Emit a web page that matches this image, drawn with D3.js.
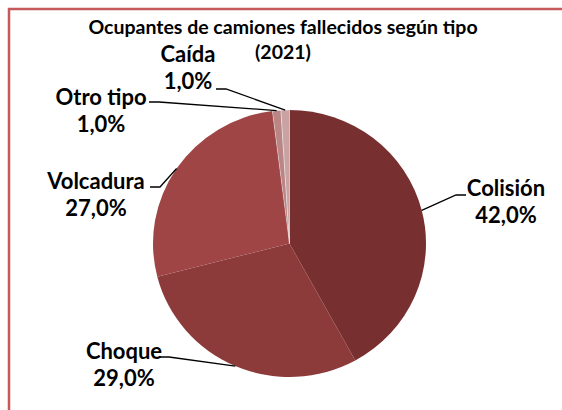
<!DOCTYPE html>
<html>
<head>
<meta charset="utf-8">
<script src="https://cdn.jsdelivr.net/npm/d3@7"></script>
<style>
  html, body { margin: 0; padding: 0; background: #fff; overflow: hidden; }
  text { font-family: Lato, "Open Sans", sans-serif; font-weight: bold; fill: #000; }
</style>
</head>
<body>
<svg id="chart"></svg>
<script>
// data
const categories = ['Colisión', 'Choque', 'Volcadura', 'Otro tipo', 'Caída'];
const values = [42.0, 29.0, 27.0, 1.0, 1.0];
const colors = ['#772F2F', '#8C3A3A', '#A04545', '#B98585', '#C9A3A3'];

// label layout: text center x, first-line baseline y, leader attach point
const labelLayout = [
  { x: 506, y: 196, ax: 466, ay: 195, side: 'left' },
  { x: 124, y: 359, ax: 159, ay: 357, side: 'right' },
  { x: 96,  y: 189, ax: 150, ay: 187, side: 'right' },
  { x: 101, y: 105, ax: 149, ay: 102, side: 'right' },
  { x: 188, y: 62,  ax: 216, ay: 89,  side: 'right' }
];

const width = 562, height = 410;
const cx = 289.5, cy = 243.5, rx = 136.5, ry = 133.5;

const svg = d3.select('#chart')
  .attr('width', width)
  .attr('height', height);

svg.append('rect')
  .attr('width', width).attr('height', height)
  .attr('fill', '#fff');

// outer frame
svg.append('rect')
  .attr('x', 9).attr('y', 9)
  .attr('width', width + 20).attr('height', height + 20)
  .attr('fill', 'none')
  .attr('stroke', '#C65A5A')
  .attr('stroke-width', 2.5);

// title
svg.append('text')
  .attr('x', 283).attr('y', 34)
  .attr('text-anchor', 'middle')
  .style('font-size', '19.5px')
  .text('Ocupantes de camiones fallecidos según tipo');
svg.append('text')
  .attr('x', 283).attr('y', 59)
  .attr('text-anchor', 'middle')
  .style('font-size', '19.5px')
  .text('(2021)');

const pie = d3.pie().sort(null).value(d => d.value);
const arcs = pie(categories.map((c, i) => ({ name: c, value: values[i] })));
const arc = d3.arc().innerRadius(0).outerRadius(rx);

const g = svg.append('g')
  .attr('transform', `translate(${cx},${cy}) scale(1,${ry / rx})`);

g.selectAll('path')
  .data(arcs)
  .enter()
  .append('path')
  .attr('d', arc)
  .attr('fill', (d, i) => colors[i])
  .attr('stroke', (d, i) => i >= 3 ? '#fff' : 'none')
  .attr('stroke-width', 0.6)
  .attr('stroke-opacity', 0.6);

// point on the pie edge at the middle of a slice
const edgePoint = (d) => {
  const a = (d.startAngle + d.endAngle) / 2;
  return [cx + rx * Math.sin(a), cy - ry * Math.cos(a)];
};

// leader lines
svg.selectAll('.leader')
  .data(arcs)
  .enter()
  .append('polyline')
  .attr('class', 'leader')
  .attr('fill', 'none')
  .attr('stroke', '#000')
  .attr('stroke-width', 1.3)
  .attr('points', (d, i) => {
    const L = labelLayout[i];
    const p = edgePoint(d);
    const bx = L.side === 'left' ? L.ax - 10 : L.ax + 10;
    return [[L.ax, L.ay], [bx, L.ay], p].map(q => q.join(',')).join(' ');
  });

// labels
const fmt = v => v.toFixed(1).replace('.', ',') + '%';
const labels = svg.selectAll('.label')
  .data(arcs)
  .enter()
  .append('text')
  .attr('class', 'label')
  .attr('text-anchor', 'middle')
  .style('font-size', '22px');

labels.append('tspan')
  .attr('x', (d, i) => labelLayout[i].x)
  .attr('y', (d, i) => labelLayout[i].y)
  .text(d => d.data.name);
labels.append('tspan')
  .attr('x', (d, i) => labelLayout[i].x)
  .attr('y', (d, i) => labelLayout[i].y + 27)
  .text(d => fmt(d.data.value));
</script>
</body>
</html>
